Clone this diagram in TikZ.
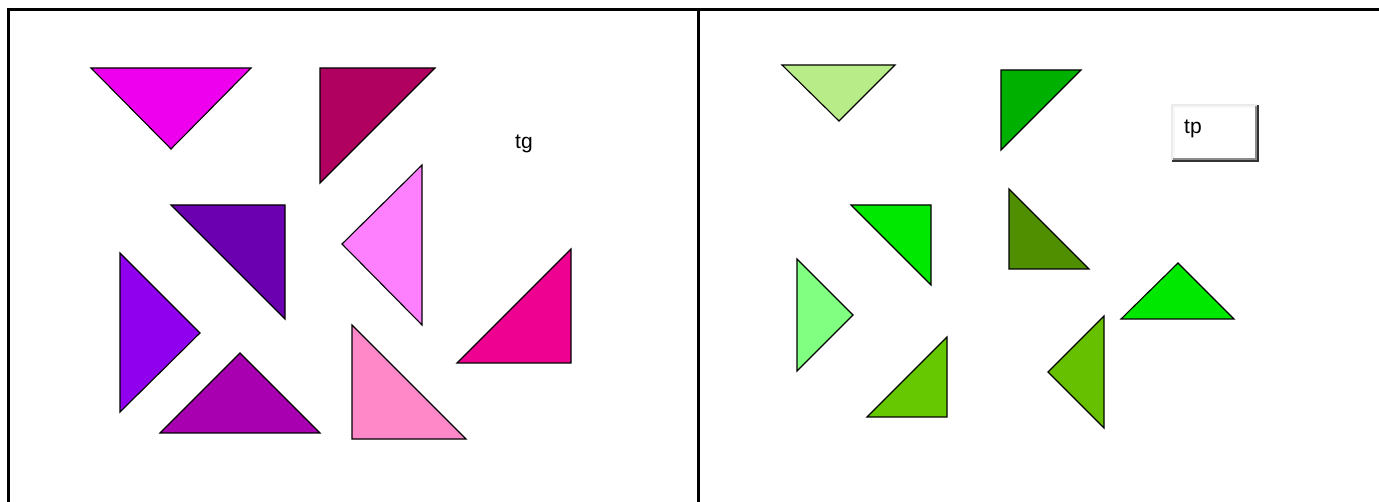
\documentclass[tikz,border=0pt]{standalone}
\usepackage{fontspec}
\setmainfont{Liberation Sans}
\begin{document}
\begin{tikzpicture}[x=1pt,y=-1pt,
  tri/.style={draw=black,line width=1.1pt,line join=miter},
  frame/.style={line width=3pt,black},
  lbl/.style={font=\fontsize{21}{24}\selectfont,inner sep=0pt}]
\useasboundingbox (0,0) rectangle (1379,502);
\fill[white] (0,0) rectangle (1379,502);
% frame
\draw[frame] (8.5,502) -- (8.5,9.5) -- (1379,9.5);
\draw[frame] (698.5,9.5) -- (698.5,502);
% left panel
\definecolor{cA}{RGB}{238,0,238}
\definecolor{cB}{RGB}{176,0,96}
\definecolor{cC}{RGB}{106,0,176}
\definecolor{cD}{RGB}{255,128,255}
\definecolor{cE}{RGB}{144,0,238}
\definecolor{cF}{RGB}{168,0,176}
\definecolor{cG}{RGB}{255,136,200}
\definecolor{cH}{RGB}{238,0,144}
\filldraw[tri,fill=cA] (91,68) -- (251,68) -- (171,149) -- cycle;
\filldraw[tri,fill=cB] (320,68) -- (435,68) -- (320,183) -- cycle;
\filldraw[tri,fill=cC] (171,205) -- (285,205) -- (285,319) -- cycle;
\filldraw[tri,fill=cD] (342,244) -- (422,165) -- (422,325) -- cycle;
\filldraw[tri,fill=cE] (120,253) -- (200,333) -- (120,412) -- cycle;
\filldraw[tri,fill=cF] (160,433) -- (240,353) -- (320,433) -- cycle;
\filldraw[tri,fill=cG] (352,325) -- (466,439) -- (352,439) -- cycle;
\filldraw[tri,fill=cH] (457,363) -- (571,249) -- (571,363) -- cycle;
\node[lbl,anchor=base west] (tg) at (515,149) {tg};
% right panel
\definecolor{gA}{RGB}{184,236,136}
\definecolor{gB}{RGB}{0,176,0}
\definecolor{gC}{RGB}{0,232,0}
\definecolor{gD}{RGB}{80,144,0}
\definecolor{gE}{RGB}{128,255,128}
\definecolor{gF}{RGB}{0,232,0}
\definecolor{gG}{RGB}{102,200,0}
\definecolor{gH}{RGB}{102,192,0}
\filldraw[tri,fill=gA] (782,65) -- (895,65) -- (839,121) -- cycle;
\filldraw[tri,fill=gB] (1001,70) -- (1081,70) -- (1001,150) -- cycle;
\filldraw[tri,fill=gC] (851,205) -- (931,205) -- (931,285) -- cycle;
\filldraw[tri,fill=gD] (1009,189) -- (1089,269) -- (1009,269) -- cycle;
\filldraw[tri,fill=gE] (797,259) -- (853,315) -- (797,371) -- cycle;
\filldraw[tri,fill=gF] (1121,319) -- (1178,263) -- (1234,319) -- cycle;
\filldraw[tri,fill=gG] (867,417) -- (947,337) -- (947,417) -- cycle;
\filldraw[tri,fill=gH] (1104,316) -- (1104,428) -- (1048,372) -- cycle;
% tp button
\fill[black!80] (1172,105) rectangle (1259,162);
\fill[black!8] (1171,104) rectangle (1257,160);
\fill[black!45] (1173,106) rectangle (1257,160);
\fill[black!3] (1173,106) rectangle (1255,158);
\fill[white] (1175,108) rectangle (1255,158);
\node[lbl,anchor=base west] (tp) at (1184,134) {tp};
\end{tikzpicture}
\end{document}
